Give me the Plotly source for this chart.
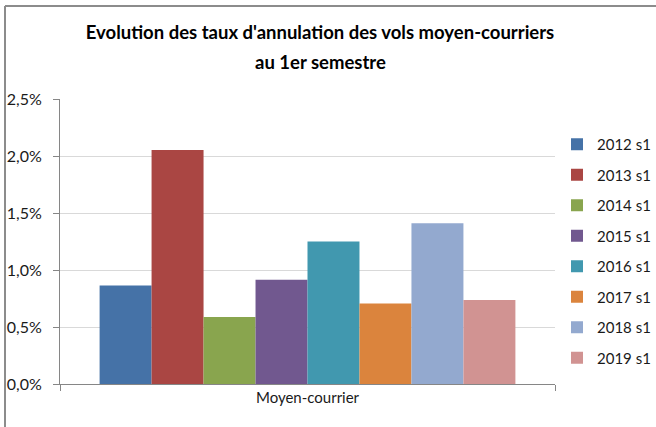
import plotly.graph_objects as go

categories = ["Moyen-courrier"]
series_names = ["2012 s1", "2013 s1", "2014 s1", "2015 s1", "2016 s1", "2017 s1", "2018 s1", "2019 s1"]
series_values = [0.00865, 0.02053, 0.00588, 0.00915, 0.01251, 0.00707, 0.01409, 0.00737]
series_colors = ["#4572A7", "#AA4643", "#89A54E", "#71588F", "#4198AF", "#DB843D", "#93A9CF", "#D19392"]
y_ticks = [0, 0.005, 0.01, 0.015, 0.02, 0.025]
title_line1 = "Evolution des taux d'annulation des vols moyen-courriers"
title_line2 = "au 1er semestre"

FONT = "Lato"

fig = go.Figure()
for name, val, col in zip(series_names, series_values, series_colors):
    fig.add_trace(go.Bar(
        x=categories, y=[val], name=name, legendgroup=name,
        marker=dict(color=col, line=dict(width=0)),
    ))

W, H = 656, 427
L, R, T, B = 60, 101, 99, 43
pw = W - L - R
ph = H - T - B

def px_to_paper_x(px):
    return (px - L) / pw

def px_to_paper_y(py):
    return (H - B - py) / ph

fig.update_layout(
    width=W, height=H,
    margin=dict(l=L, r=R, t=T, b=B, autoexpand=False),
    paper_bgcolor="white", plot_bgcolor="white",
    separators=", ",
    barmode="group", bargap=0.16, bargroupgap=0,
    font=dict(family=FONT, size=15, color="#1a1a1a"),
    title=dict(
        text="<b>" + title_line1 + "</b>",
        x=320 / W, xanchor="center", xref="container",
        y=1 - 33 / H, yanchor="middle", yref="container",
        font=dict(family=FONT, size=18.5, color="#000000"),
    ),
    annotations=[
        dict(text="<b>" + title_line2 + "</b>", xref="paper", yref="paper",
             x=px_to_paper_x(320), y=px_to_paper_y(62), xanchor="center", yanchor="middle",
             showarrow=False, font=dict(family=FONT, size=18.5, color="#000000")),
    ],
    legend=dict(
        x=px_to_paper_x(557), xanchor="left",
        y=px_to_paper_y(251), yanchor="middle",
        font=dict(family=FONT, size=15, color="#1a1a1a"),
        tracegroupgap=8, traceorder="grouped",
        bgcolor="rgba(0,0,0,0)",
    ),
    xaxis=dict(
        showline=True, linecolor="#868686", linewidth=1,
        ticks="outside", tickson="boundaries", ticklen=6, tickcolor="#868686",
        showgrid=False, tickfont=dict(family=FONT, size=15, color="#1a1a1a"),
    ),
    yaxis=dict(
        range=[0, 0.025], tickvals=y_ticks, tickformat=".1%",
        showline=True, linecolor="#868686", linewidth=1,
        ticks="outside", ticklen=6, tickcolor="#868686",
        showgrid=True, gridcolor="#D9D9D9", gridwidth=1,
        zeroline=False,
        tickfont=dict(family=FONT, size=16, color="#1a1a1a"),
        ticklabelstandoff=8,
    ),
    shapes=[
        dict(type="line", xref="paper", yref="paper",
             x0=px_to_paper_x(5), x1=px_to_paper_x(5),
             y0=px_to_paper_y(6), y1=px_to_paper_y(430),
             line=dict(color="#8C8C8C", width=2)),
        dict(type="line", xref="paper", yref="paper",
             x0=px_to_paper_x(5), x1=px_to_paper_x(660),
             y0=px_to_paper_y(6), y1=px_to_paper_y(6),
             line=dict(color="#8C8C8C", width=2)),
    ],
)

fig.write_html("out.html", config={"displayModeBar": False},
               post_script="document.body.style.margin='0';")
